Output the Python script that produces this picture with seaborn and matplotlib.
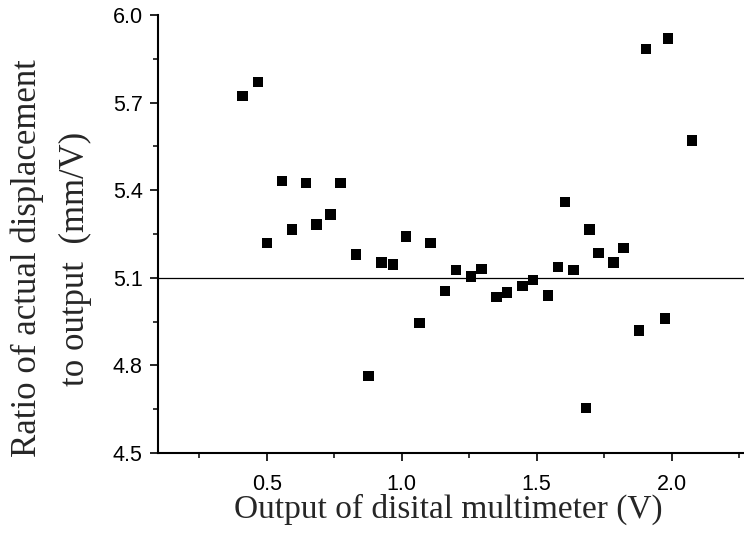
import matplotlib
matplotlib.use("Agg")
import matplotlib.pyplot as plt
import seaborn as sns
import numpy as np
import pandas as pd
from matplotlib.ticker import MultipleLocator, FixedLocator

# Data
voltage = [0.410, 0.468, 0.501, 0.557, 0.594, 0.646, 0.685, 0.736, 0.773, 0.830,
           0.876, 0.924, 0.968, 1.016, 1.065, 1.106, 1.160, 1.201, 1.256, 1.295,
           1.352, 1.390, 1.447, 1.487, 1.542, 1.579, 1.605, 1.636, 1.683, 1.695,
           1.730, 1.784, 1.822, 1.879, 1.905, 1.976, 1.986, 2.075]
ratio = [5.723, 5.771, 5.219, 5.432, 5.266, 5.425, 5.283, 5.317, 5.425, 5.180,
         4.764, 5.153, 5.146, 5.242, 4.945, 5.219, 5.055, 5.126, 5.104, 5.130,
         5.034, 5.050, 5.072, 5.092, 5.040, 5.137, 5.359, 5.126, 4.654, 5.265,
         5.185, 5.152, 5.202, 4.920, 5.884, 4.960, 5.919, 5.570]
reference_value = 5.1
x_ticks = [0.5, 1.0, 1.5, 2.0]
y_ticks = [4.5, 4.8, 5.1, 5.4, 5.7, 6.0]

df = pd.DataFrame({"voltage": voltage, "ratio": ratio})

sns.set_style("ticks")
plt.rcParams["font.family"] = ["Liberation Sans", "DejaVu Sans"]

fig = plt.figure(figsize=(7.44, 5.41), dpi=100)
ax = fig.add_axes([158 / 744, 88 / 541, 586 / 744, 438 / 541])

sns.scatterplot(data=df, x="voltage", y="ratio", marker="s", s=58,
                color="black", edgecolor="none", ax=ax, zorder=3)
ax.axhline(reference_value, color="black", lw=0.9, zorder=2)

ax.set_xlim(0.097, 2.268)
ax.set_ylim(4.5, 6.0)
ax.xaxis.set_major_locator(FixedLocator(x_ticks))
ax.yaxis.set_major_locator(FixedLocator(y_ticks))
ax.xaxis.set_minor_locator(MultipleLocator(0.25))
ax.yaxis.set_minor_locator(MultipleLocator(0.15))
ax.set_xticklabels([f"{v:.1f}" for v in x_ticks])
ax.set_yticklabels([f"{v:.1f}" for v in y_ticks])

for s in ["top", "right"]:
    ax.spines[s].set_visible(False)
for s in ["left", "bottom"]:
    ax.spines[s].set_linewidth(1.5)
    ax.spines[s].set_color("black")

ax.tick_params(axis="both", which="major", direction="out", length=6, width=1.2,
               labelsize=15.5, colors="black")
ax.tick_params(axis="x", which="major", pad=9)
ax.tick_params(axis="y", which="major", pad=5)
ax.tick_params(axis="both", which="minor", direction="out", length=3.5, width=1.1,
               colors="black")

serif = ["Liberation Serif", "DejaVu Serif"]
ax.set_xlabel("Output of disital multimeter (V)", family=serif, fontsize=24)
ax.set_ylabel("Ratio of actual displacement\nto output  (mm/V)", family=serif,
              fontsize=25, linespacing=1.6)
ax.xaxis.set_label_coords(0.495, -0.092)
ax.yaxis.set_label_coords(-0.112, 0.444)

fig.savefig("out.png", dpi=100)
